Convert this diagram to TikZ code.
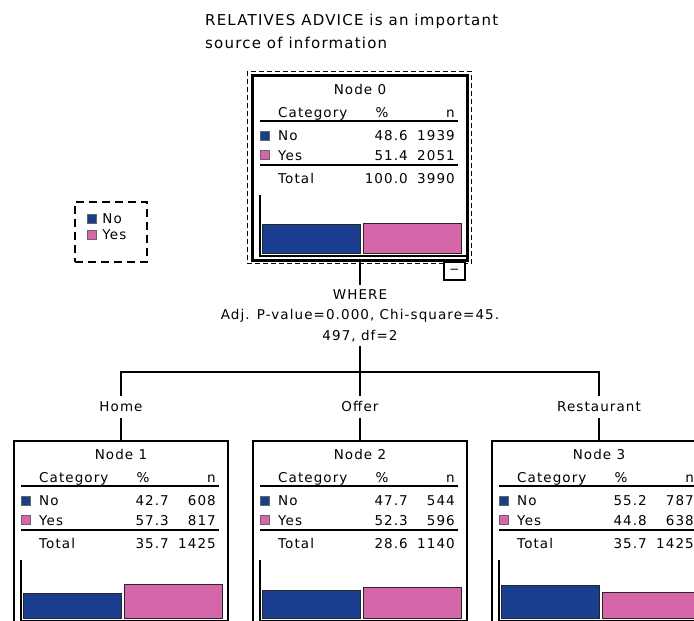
\documentclass[tikz,border=0pt]{standalone}
\usepackage{fontspec}
\setmainfont{DejaVu Sans}[LetterSpace=8]
\usetikzlibrary{positioning}
\definecolor{noblue}{HTML}{1B3D8F}
\definecolor{yespink}{HTML}{D466A9}

% one tree node: name, top-left corner, title, No %, No n, Yes %, Yes n, Total %, Total n
\newcommand{\treenode}[9]{%
  \begin{scope}[shift={#2}]
    \pgfmathsetmacro{\barno}{177-0.58*#4}
    \pgfmathsetmacro{\baryes}{177-0.58*#6}
    \node[nodebox] (#1) at (107,92) {};
    \node[txt] (#1-title) at (107,13.5) {#3};
    \node[txt, anchor=west] (#1-cat) at (25,37) {Category};
    \node[txt] (#1-pct) at (129,37) {\%};
    \node[txt, anchor=east] (#1-n) at (202,37) {n};
    \draw[rule] (7,45) -- (205,45);
    \node[swatch, fill=noblue] (#1-sqno) at (11.5,59.5) {};
    \node[txt, anchor=west] (#1-no) at (25,60) {No};
    \node[txt, anchor=east] (#1-nopct) at (155,60) {#4};
    \node[txt, anchor=east] (#1-non) at (202,60) {#5};
    \node[swatch, fill=yespink] (#1-sqyes) at (11.5,79) {};
    \node[txt, anchor=west] (#1-yes) at (25,79.5) {Yes};
    \node[txt, anchor=east] (#1-yespct) at (155,79.5) {#6};
    \node[txt, anchor=east] (#1-yesn) at (202,79.5) {#7};
    \draw[rule] (7,89) -- (205,89);
    \node[txt, anchor=west] (#1-tot) at (25,103) {Total};
    \node[txt, anchor=east] (#1-totpct) at (155,103) {#8};
    \node[txt, anchor=east] (#1-totn) at (202,103) {#9};
    \draw[rule] (7,119) -- (7,180) -- (214,180);
    \draw[bar, fill=noblue] (9,177) rectangle (107,\barno);
    \draw[bar, fill=yespink] (110,177) rectangle (208,\baryes);
  \end{scope}}

\begin{document}
\begin{tikzpicture}[
    x=1pt, y=-1pt,
    txt/.style={font=\fontsize{13.5}{16}\selectfont, inner sep=0pt,
                text height=9.8pt, text depth=0pt},
    nodebox/.style={draw, line width=1.2pt, fill=white,
                    minimum width=214, minimum height=184, inner sep=0pt},
    rule/.style={line width=1.2pt},
    bar/.style={draw=black!85, line width=1pt},
    swatch/.style={draw=black!60, line width=0.4pt, minimum size=9,
                   inner sep=0pt},
    link/.style={line width=1.2pt},
    edgelbl/.style={txt, inner ysep=6pt, fill=white}
  ]
  \useasboundingbox (0,0) rectangle (694,621);
  \clip (0,0) rectangle (694,621);

  \node[anchor=north west, align=left, inner sep=0pt,
        font=\fontsize{15}{23}\selectfont] (target) at (205,14)
    {RELATIVES ADVICE is an important\\source of information};

  % legend
  \node[draw, dash pattern=on 8pt off 5pt, line width=1.2pt,
        minimum width=72, minimum height=60] (legend) at (111,232) {};
  \node[swatch, fill=noblue] (lg-sqno) at (91.5,219) {};
  \node[swatch, fill=yespink] (lg-sqyes) at (91.5,235) {};
  \node[txt, right=6pt of lg-sqno] (lg-no) {No};
  \node[txt, right=6pt of lg-sqyes] (lg-yes) {Yes};

  % tree
  \treenode{n0}{(253,76)}{Node 0}{48.6}{1939}{51.4}{2051}{100.0}{3990}
  \draw[line width=3pt] (n0.north west) rectangle (n0.south east);
  \draw[line width=1.3pt, dash pattern=on 5pt off 3pt]
    ([shift={(-5,-4)}]n0.north west) rectangle ([shift={(4,3)}]n0.south east);
  \node[draw, line width=1.2pt, fill=white, minimum width=21,
        minimum height=18, inner sep=0pt, font=\fontsize{12}{14}\selectfont]
    (n0-toggle) at (454.5,271) {−};

  \node[anchor=north, align=center, inner xsep=0pt, inner ysep=4pt,
        font=\fontsize{13.5}{20.5}\selectfont] (split) at (360,285)
    {WHERE\\Adj. P-value=0.000, Chi-square=45.\\497, df=2};

  \coordinate (fork) at (360,372);
  \node[edgelbl] (home) at (121,407) {Home};
  \node[edgelbl] (offer) at (360,407) {Offer};
  \node[edgelbl] (rest) at (599,407) {Restaurant};

  \treenode{n1}{(14,441)}{Node 1}{42.7}{608}{57.3}{817}{35.7}{1425}
  \treenode{n2}{(253,441)}{Node 2}{47.7}{544}{52.3}{596}{28.6}{1140}
  \treenode{n3}{(492,441)}{Node 3}{55.2}{787}{44.8}{638}{35.7}{1425}

  \draw[link] (n0.south) -- (split.north);
  \draw[link] (split.south) -- (fork);
  \draw[link] (home) |- (fork) -| (rest);
  \draw[link] (fork) -- (offer);
  \draw[link] (home) -- (n1);
  \draw[link] (offer) -- (n2);
  \draw[link] (rest) -- (n3);
\end{tikzpicture}
\end{document}
